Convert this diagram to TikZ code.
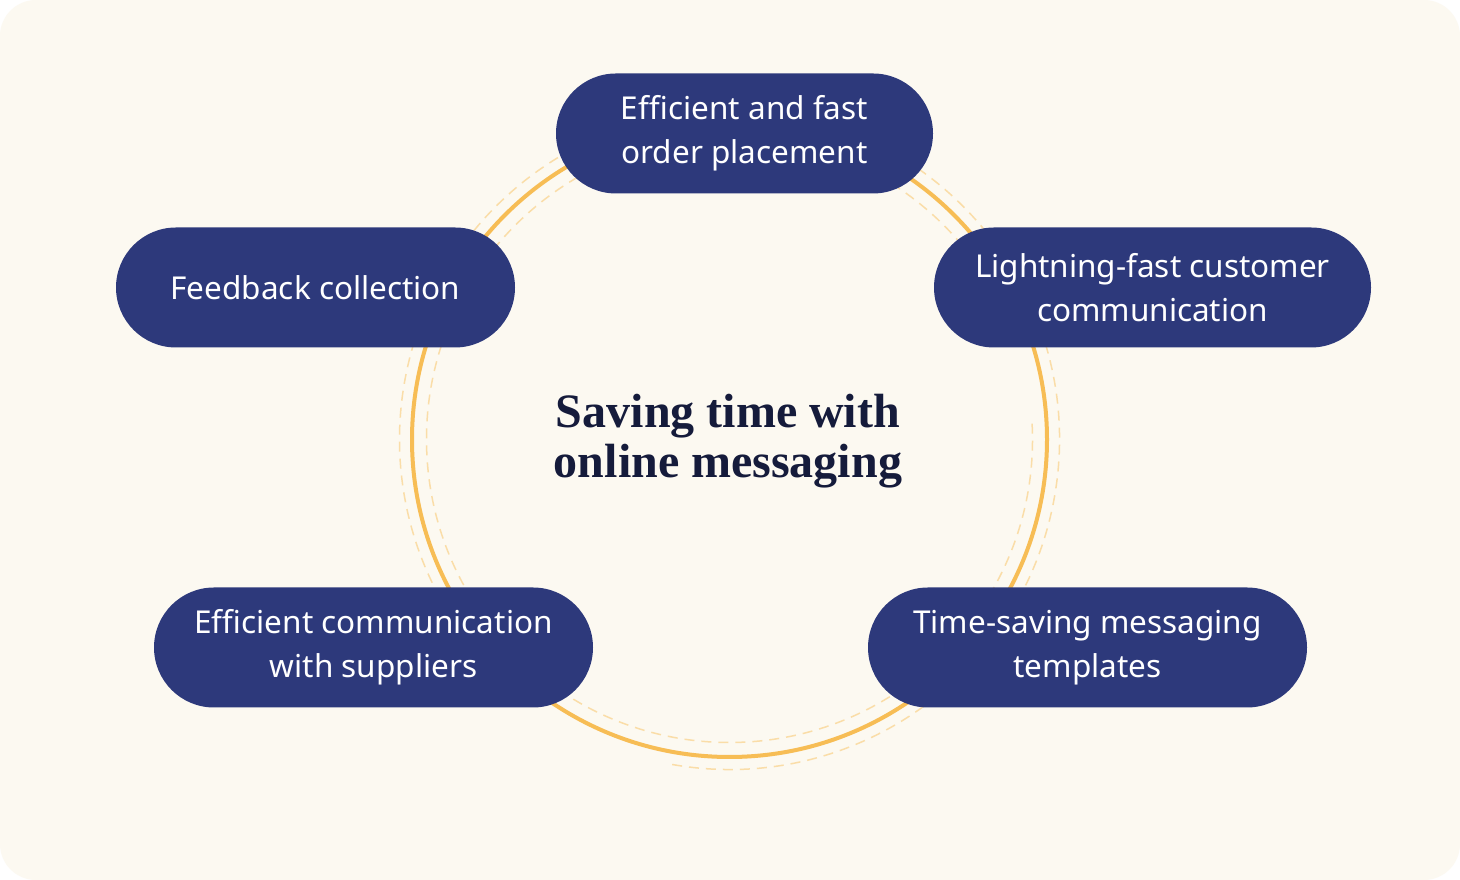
\documentclass[tikz,border=0pt]{standalone}
\usepackage{fontspec}
\newfontfamily\labelfont{Noto Sans}
\newfontfamily\titlefont{Liberation Serif}
\definecolor{pagecream}{HTML}{FCF9F1}
\definecolor{pillblue}{HTML}{2D397B}
\definecolor{ringgold}{HTML}{F7BD55}
\definecolor{ringpale}{HTML}{FADDA8}
\definecolor{titlenavy}{HTML}{151B3B}
\usetikzlibrary{positioning}

\begin{document}
\begin{tikzpicture}[x=1pt, y=1pt,
    pill/.style={fill=pillblue, text=white, rounded corners=60pt,
      minimum height=120pt, inner sep=0pt, align=center,
      font=\labelfont\fontsize{31.5}{44}\selectfont},
    ring/.style={ringgold, line width=4pt},
    halo/.style={ringpale, line width=1.5pt, dash pattern=on 10pt off 7pt}]
  % Background
  \fill[white] (0,0) rectangle (1460,880);
  \fill[pagecream, rounded corners=36pt] (0,0) rectangle (1460,880);
  \useasboundingbox (0,0) rectangle (1460,880);
  % Rings
  \coordinate (hub) at (729.5,440.5);
  \draw[halo] (hub) ++(260:330) arc[start angle=260, end angle=585, radius=330];
  \draw[halo] (hub) ++(3:303) arc[start angle=3, end angle=-325, radius=303];
  \draw[ring] (hub) circle[radius=317.5];
  % Pills
  \node[pill, minimum width=377pt] (order) at (744.5,746.5) {Efficient and fast\\order placement};
  \node[pill, minimum width=399pt] (feedback) at (315.5,592.5) {Feedback collection};
  \node[pill, minimum width=437pt] (customer) at (1152.5,592.5) {Lightning-fast customer\\communication};
  \node[pill, minimum width=439pt] (suppliers) at (373.5,232.5) {Efficient communication\\with suppliers};
  \node[pill, minimum width=439pt] (templates) at (1087.5,232.5) {Time-saving messaging\\templates};
  % Title
  \node[font=\titlefont\bfseries\fontsize{48}{50}\selectfont, text=titlenavy, align=center]
    (title) at (728,439) {Saving time with\\online messaging};
\end{tikzpicture}
\end{document}
